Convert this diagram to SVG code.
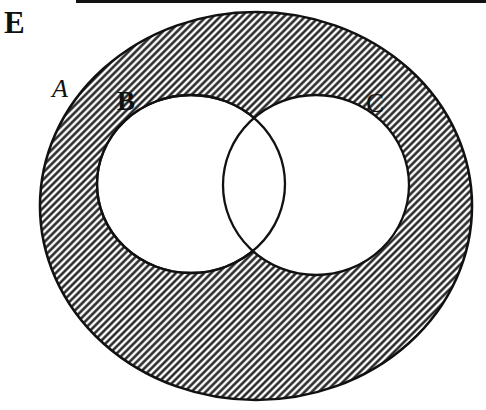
<svg xmlns="http://www.w3.org/2000/svg" width="486" height="410" viewBox="0 0 486 410">
<defs>
<pattern id="hatch" patternUnits="userSpaceOnUse" width="5" height="5" patternTransform="rotate(-45)">
<rect width="5" height="5" fill="#fff"/>
<line x1="0" y1="2.5" x2="5" y2="2.5" stroke="#1a1a1a" stroke-width="2.4"/>
</pattern>
</defs>
<style>
.lbl{font-family:"Liberation Serif","DejaVu Serif",serif;fill:#111}
.ln{stroke:#111;fill:none}
</style>
<rect width="486" height="410" fill="#fff"/>
<line class="ln" x1="76" y1="1.5" x2="486" y2="1.5" stroke-width="3"/>
<g id="E"><text class="lbl" x="4" y="33" font-size="31" font-weight="bold">E</text></g>
<g id="A">
<ellipse cx="256" cy="206" rx="216" ry="194" fill="url(#hatch)" stroke="#111" stroke-width="2.6"/>
<text class="lbl" x="52" y="97" font-size="26" font-style="italic">A</text>
</g>
<g id="B">
<ellipse cx="191" cy="184" rx="94" ry="89" fill="#fff" stroke="#111" stroke-width="2.3"/>
</g>
<g id="C">
<ellipse cx="316" cy="185" rx="93" ry="90" fill="#fff" stroke="#111" stroke-width="2.3"/>
</g>
<ellipse class="ln" cx="191" cy="184" rx="94" ry="89" stroke-width="2.3"/>
<text class="lbl" x="117" y="110" font-size="27" font-weight="bold">B</text>
<text class="lbl" x="366" y="112" font-size="27">C</text>
</svg>
